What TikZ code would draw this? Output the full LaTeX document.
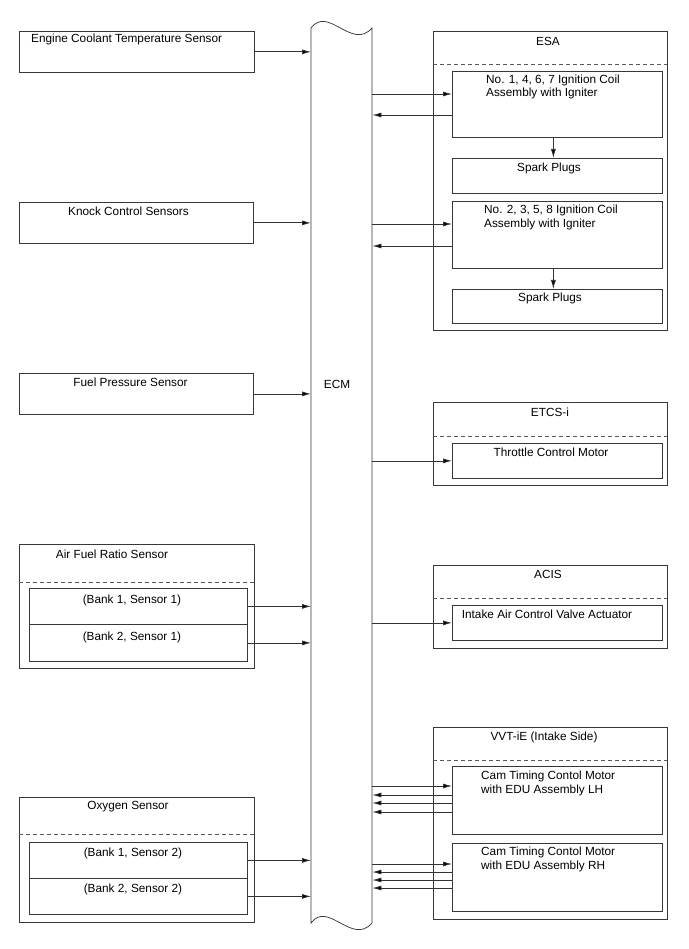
\documentclass[tikz,border=0pt]{standalone}
\usepackage{fontspec}
\setmainfont{Liberation Sans}
\usetikzlibrary{arrows.meta}
\newcommand\bx[5]{\node[box,minimum width=#4pt,minimum height=#5pt] (#1) at (#2,#3) {};}
\begin{document}
\begin{tikzpicture}[x=1pt,y=-1pt,
  box/.style={draw=black!78,line width=0.75pt,inner sep=0pt,anchor=north west,rectangle},
  lbl/.style={inner sep=0pt,font=\fontsize{11.8}{13.5}\selectfont,text=black},
  arr/.style={draw=black!80,line width=0.75pt,-{Latex[length=9pt,width=5pt,fill=black]}},
  dsh/.style={draw=black!65,line width=0.75pt,dash pattern=on 4pt off 3pt}]
\useasboundingbox (0,0) rectangle (688,949);
% ECM
\node[inner sep=0pt,minimum width=61pt,minimum height=895pt,anchor=north west] (ecm) at (311,28) {};
\draw[black!78,line width=0.75pt] (311,28) -- (311,923) .. controls (328,900) and (352,946) .. (372,923) -- (372,28) .. controls (352,51) and (328,5) .. (311,28) -- cycle;
\node[lbl] (ecmt) at (337,384) {ECM};
% left boxes
\bx{ect}{19}{31}{235}{41}
\bx{knock}{19}{202}{234}{41}
\bx{fuel}{19}{373}{234}{41}
\bx{afr}{19}{544}{235}{124}
\bx{b11}{29}{588}{218}{36}
\bx{b21}{29}{624}{218}{37}
\bx{oxy}{19}{797}{235}{125}
\bx{b12}{29}{842}{218}{36}
\bx{b22}{29}{878}{218}{36}
\draw[dsh] (19,582) -- (254,582);
\draw[dsh] (19,834) -- (254,834);
\node[lbl,anchor=west] (ectt) at (31,39.5) {Engine Coolant Temperature Sensor};
\node[lbl] (knockt) at (128.5,211.5) {Knock Control Sensors};
\node[lbl] (fuelt) at (130.5,382.5) {Fuel Pressure Sensor};
\node[lbl] (afrt) at (112,554.5) {Air Fuel Ratio Sensor};
\node[lbl] (b11t) at (132,600.5) {(Bank 1, Sensor 1)};
\node[lbl] (b21t) at (132,637.5) {(Bank 2, Sensor 1)};
\node[lbl] (oxyt) at (128,806.5) {Oxygen Sensor};
\node[lbl] (b12t) at (133,853.5) {(Bank 1, Sensor 2)};
\node[lbl] (b22t) at (133,889.5) {(Bank 2, Sensor 2)};
% left arrows
\foreach \n in {ect,knock,fuel,b11,b21,b12,b22}
  \draw[arr] (\n.east) -- (\n.east -| ecm.west);
% right boxes
\bx{esa}{433}{31}{234}{299}
\bx{ign1}{452}{71}{210}{66}
\bx{sp1}{452}{158}{210}{35}
\bx{ign2}{452}{201}{210}{67}
\bx{sp2}{452}{289}{210}{34}
\bx{etcs}{433}{402}{234}{83}
\bx{thr}{452}{443}{210}{35}
\bx{acis}{433}{565}{234}{83}
\bx{iac}{452}{605}{210}{35}
\bx{vvt}{433}{727}{234}{192}
\bx{lh}{452}{766}{210}{68}
\bx{rh}{452}{843}{210}{68}
\draw[dsh] (433,64) -- (667,64);
\draw[dsh] (433,436) -- (667,436);
\draw[dsh] (433,598) -- (667,598);
\draw[dsh] (433,760) -- (667,760);
\node[lbl] (esat) at (548,41.5) {ESA};
\node[lbl,anchor=west,align=left] (ign1t) at (486,87) {No. 1, 4, 6, 7 Ignition Coil\\Assembly with Igniter};
\node[lbl] (sp1t) at (549,168.5) {Spark Plugs};
\node[lbl,anchor=west,align=left] (ign2t) at (484,217.5) {No. 2, 3, 5, 8 Ignition Coil\\Assembly with Igniter};
\node[lbl] (sp2t) at (550,298.5) {Spark Plugs};
\node[lbl] (etcst) at (550,412.5) {ETCS-i};
\node[lbl] (thrt) at (551,452.5) {Throttle Control Motor};
\node[lbl] (acist) at (548,574.5) {ACIS};
\node[lbl] (iact) at (547,614.5) {Intake Air Control Valve Actuator};
\node[lbl] (vvtt) at (544,737.5) {VVT-iE (Intake Side)};
\node[lbl,anchor=west,align=left] (lht) at (481,783.5) {Cam Timing Contol Motor\\with EDU Assembly LH};
\node[lbl,anchor=west,align=left] (rht) at (481,859.5) {Cam Timing Contol Motor\\with EDU Assembly RH};
% right arrows
\path ([yshift=-23pt]ign1.north west) coordinate (i1a) ([yshift=-44pt]ign1.north west) coordinate (i1b);
\path ([yshift=-23pt]ign2.north west) coordinate (i2a) ([yshift=-45pt]ign2.north west) coordinate (i2b);
\draw[arr] (i1a -| ecm.east) -- (i1a);
\draw[arr] (i1b) -- (i1b -| ecm.east);
\draw[arr] (i2a -| ecm.east) -- (i2a);
\draw[arr] (i2b) -- (i2b -| ecm.east);
\draw[arr] ([xshift=-4pt]ign1.south) -- ([xshift=-4pt]sp1.north);
\draw[arr] ([xshift=-4pt]ign2.south) -- ([xshift=-4pt]sp2.north);
\draw[arr] (thr.west -| ecm.east) -- (thr.west);
\draw[arr] (iac.west -| ecm.east) -- (iac.west);
\path ([yshift=-20pt]lh.north west) coordinate (la) ([yshift=-29pt]lh.north west) coordinate (lb)
      ([yshift=-37pt]lh.north west) coordinate (lc) ([yshift=-46pt]lh.north west) coordinate (ld);
\path ([yshift=-21pt]rh.north west) coordinate (ra) ([yshift=-29pt]rh.north west) coordinate (rb)
      ([yshift=-37pt]rh.north west) coordinate (rc) ([yshift=-45pt]rh.north west) coordinate (rd);
\draw[arr] (la -| ecm.east) -- (la);
\draw[arr] (ra -| ecm.east) -- (ra);
\foreach \c in {lb,lc,ld,rb,rc,rd}
  \draw[arr] (\c) -- (\c -| ecm.east);
\end{tikzpicture}
\end{document}
